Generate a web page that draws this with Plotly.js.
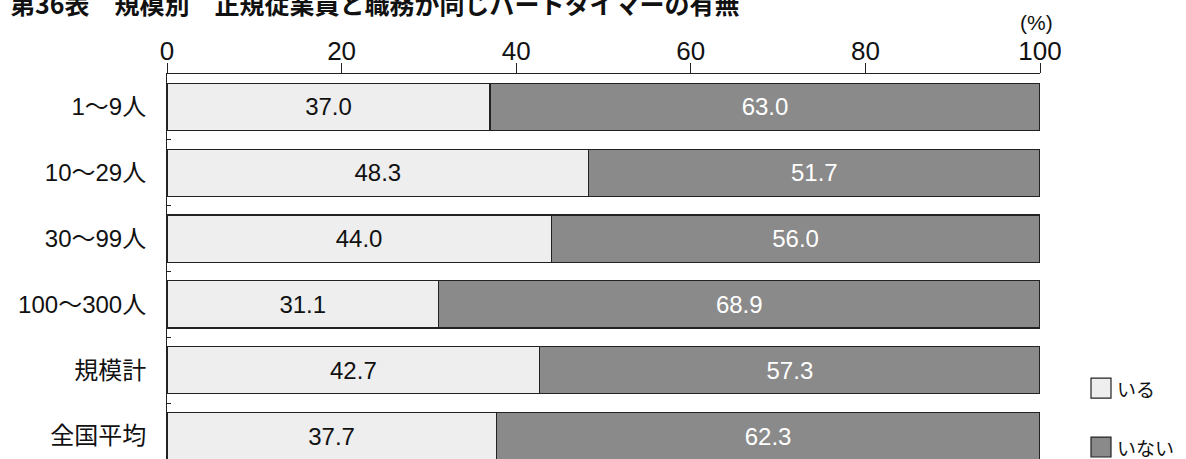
<!DOCTYPE html>
<html>
<head>
<meta charset="utf-8">
<script src="https://cdn.plot.ly/plotly-3.0.1.min.js"></script>
<style>
  html, body { margin: 0; padding: 0; overflow: hidden; background: #fff; }
  #chart { position: absolute; left: 0; top: -20px; width: 1186px; height: 500px; }
</style>
</head>
<body>
<div id="chart"></div>
<script>
const categories = ["1〜9人", "10〜29人", "30〜99人", "100〜300人", "規模計", "全国平均"];
const iru = [37.0, 48.3, 44.0, 31.1, 42.7, 37.7];
const inai = [63.0, 51.7, 56.0, 68.9, 57.3, 62.3];
const seriesNames = ["いる", "いない"];
const xTicks = [0, 20, 40, 60, 80, 100];
const titleText = "第36表　規模別　正規従業員と職務が同じパートタイマーの有無";
const unitText = "(%)";

const W = 1186, H = 500;
const M = { l: 167, r: 146, t: 93.5, b: 11 };
const pw = W - M.l - M.r, ph = H - M.t - M.b;
const OFF = 20; // div offset
const px2x = px => (px - M.l) / pw;
const py2y = py => 1 - (py + OFF - M.t) / ph;

const FONT = "Liberation Sans, Arial, Noto Sans CJK JP, sans-serif";
const LIGHT = "#eeeeee", DARK = "#8a8a8a", LINE = "#222222";

const traces = [
  {
    type: "bar", orientation: "h", name: seriesNames[0],
    y: categories, x: iru,
    marker: { color: LIGHT, line: { color: LINE, width: 1.2 } },
    text: iru.map(v => v.toFixed(1)), textposition: "inside",
    insidetextanchor: "middle", textangle: 0,
    textfont: { family: FONT, size: 24, color: "#111" },
    hoverinfo: "x+y"
  },
  {
    type: "bar", orientation: "h", name: seriesNames[1],
    y: categories, x: inai,
    marker: { color: DARK, line: { color: LINE, width: 1.2 } },
    text: inai.map(v => v.toFixed(1)), textposition: "inside",
    insidetextanchor: "middle", textangle: 0,
    textfont: { family: FONT, size: 24, color: "#ffffff" },
    hoverinfo: "x+y"
  }
];

const legendY = [388, 447];
const shapes = [];
const annotations = [];
[LIGHT, DARK].forEach((c, i) => {
  shapes.push({
    type: "rect", xref: "paper", yref: "paper",
    x0: px2x(1091), x1: px2x(1111),
    y0: py2y(legendY[i] - 10), y1: py2y(legendY[i] + 10),
    fillcolor: c, line: { color: LINE, width: 1.2 }
  });
  annotations.push({
    xref: "paper", yref: "paper", x: px2x(1115), y: py2y(legendY[i]),
    xanchor: "left", yanchor: "middle", showarrow: false,
    text: seriesNames[i], font: { family: "Noto Sans CJK JP", size: 19, color: "#111" }
  });
});
annotations.push({
  xref: "paper", yref: "paper", x: px2x(8), y: py2y(2),
  xanchor: "left", yanchor: "middle", showarrow: false,
  text: "<b>" + titleText + "</b>",
  font: { family: "Noto Sans CJK JP", size: 25, color: "#111" }
});
annotations.push({
  xref: "paper", yref: "paper", x: px2x(1036), y: py2y(22),
  xanchor: "center", yanchor: "middle", showarrow: false,
  text: unitText, font: { family: FONT, size: 21, color: "#111" }
});

const layout = {
  width: W, height: H,
  margin: M,
  barmode: "stack",
  bargap: 0.285,
  showlegend: false,
  paper_bgcolor: "#fff", plot_bgcolor: "#fff",
  font: { family: FONT, color: "#111" },
  xaxis: {
    side: "top", range: [0, 100], tickvals: xTicks,
    ticktext: xTicks.map(String),
    showgrid: false, zeroline: false,
    showline: true, linecolor: LINE, linewidth: 1,
    ticks: "outside", ticklen: 10, tickcolor: LINE, tickwidth: 1,
    tickfont: { family: FONT, size: 26, color: "#111" },
    ticklabelstandoff: -7,
    fixedrange: true
  },
  yaxis: {
    autorange: "reversed", type: "category",
    showgrid: false, zeroline: false,
    showline: true, linecolor: LINE, linewidth: 1,
    ticks: "inside", ticklen: 4, tickcolor: LINE, tickson: "boundaries",
    tickfont: { family: FONT, size: 24, color: "#111" },
    ticklabelstandoff: 15,
    fixedrange: true
  },
  shapes: shapes,
  annotations: annotations
};

Plotly.newPlot("chart", traces, layout, { displayModeBar: false, staticPlot: false });
</script>
</body>
</html>
